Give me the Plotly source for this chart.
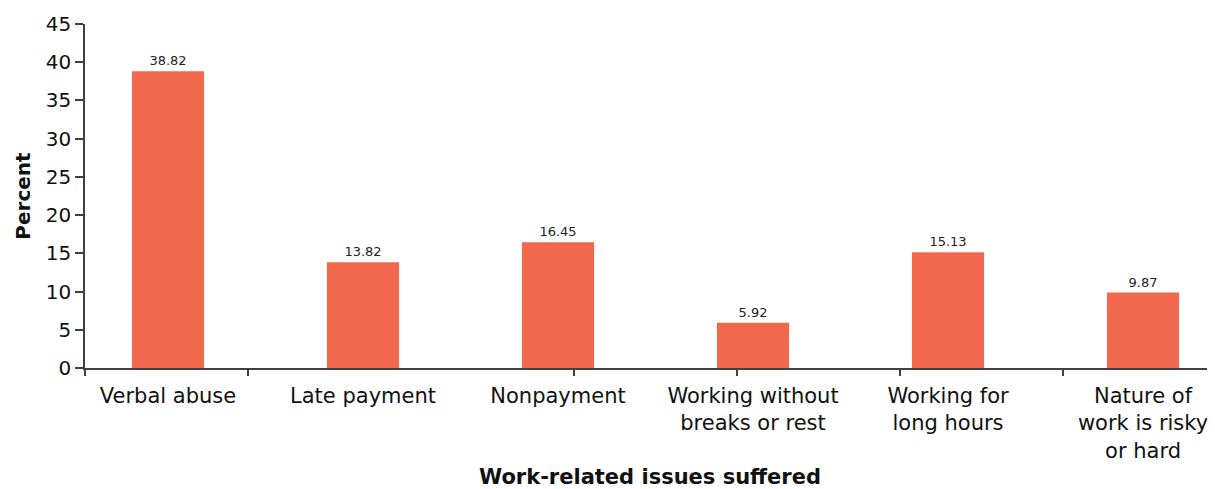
import plotly.graph_objects as go

categories = [
    "Verbal abuse",
    "Late payment",
    "Nonpayment",
    "Working without<br>breaks or rest",
    "Working for<br>long hours",
    "Nature of<br>work is risky<br>or hard",
]
values = [38.82, 13.82, 16.45, 5.92, 15.13, 9.87]
y_ticks = [0, 5, 10, 15, 20, 25, 30, 35, 40, 45]

BAR_COLOR = "#F2684C"
AXIS_COLOR = "#404040"
FONT = "DejaVu Sans, Verdana, sans-serif"

idx = list(range(len(categories)))
x_range = [-0.4256, 5.369]
tick_step = 163 / 195
tick_marks = [x_range[0] + k * tick_step for k in [0, 1, 3, 4, 5, 6]]

fig = go.Figure()
fig.add_trace(go.Bar(
    x=idx, y=values, width=0.37,
    marker=dict(color=BAR_COLOR, line=dict(width=0)),
    text=[f"{v:.2f}" for v in values],
    textposition="outside",
    textfont=dict(family=FONT, size=13, color="#222222"),
    cliponaxis=False,
    showlegend=False,
))
fig.add_trace(go.Scatter(x=[], y=[], xaxis="x2", showlegend=False, hoverinfo="skip"))

# page body adds an 8px margin; figure sized to fill the visible window
fig.update_layout(
    width=1207, height=481,
    margin=dict(l=77, r=0, t=16, b=121),
    paper_bgcolor="white", plot_bgcolor="white",
    font=dict(family=FONT, color="#111111"),
    bargap=0.63,
    xaxis=dict(
        range=x_range, automargin=False,
        tickvals=idx, ticktext=categories,
        ticks="outside", ticklen=8, tickcolor="rgba(0,0,0,0)",
        tickfont=dict(family=FONT, size=21, color="#111111"),
        showline=True, linecolor=AXIS_COLOR, linewidth=1.5,
        showgrid=False, zeroline=False,
        title=dict(text="<b>Work-related issues suffered</b>",
                   font=dict(family=FONT, size=21, color="#111111"),
                   standoff=19),
    ),
    xaxis2=dict(
        range=x_range, overlaying="x", anchor="y", side="bottom",
        tickvals=tick_marks, showticklabels=False, automargin=False,
        ticks="outside", ticklen=7, tickwidth=1.5, tickcolor=AXIS_COLOR,
        showline=False, showgrid=False, zeroline=False,
    ),
    yaxis=dict(
        range=[0, 45], tickvals=y_ticks, automargin=False,
        ticks="outside", ticklen=8, tickwidth=1.5, tickcolor=AXIS_COLOR,
        tickfont=dict(family=FONT, size=20, color="#111111"),
        showline=True, linecolor=AXIS_COLOR, linewidth=1.5,
        showgrid=False, zeroline=False,
        title=dict(text="<b>Percent</b>",
                   font=dict(family=FONT, size=20, color="#111111"),
                   standoff=10),
    ),
)

fig.write_html("out.html")
